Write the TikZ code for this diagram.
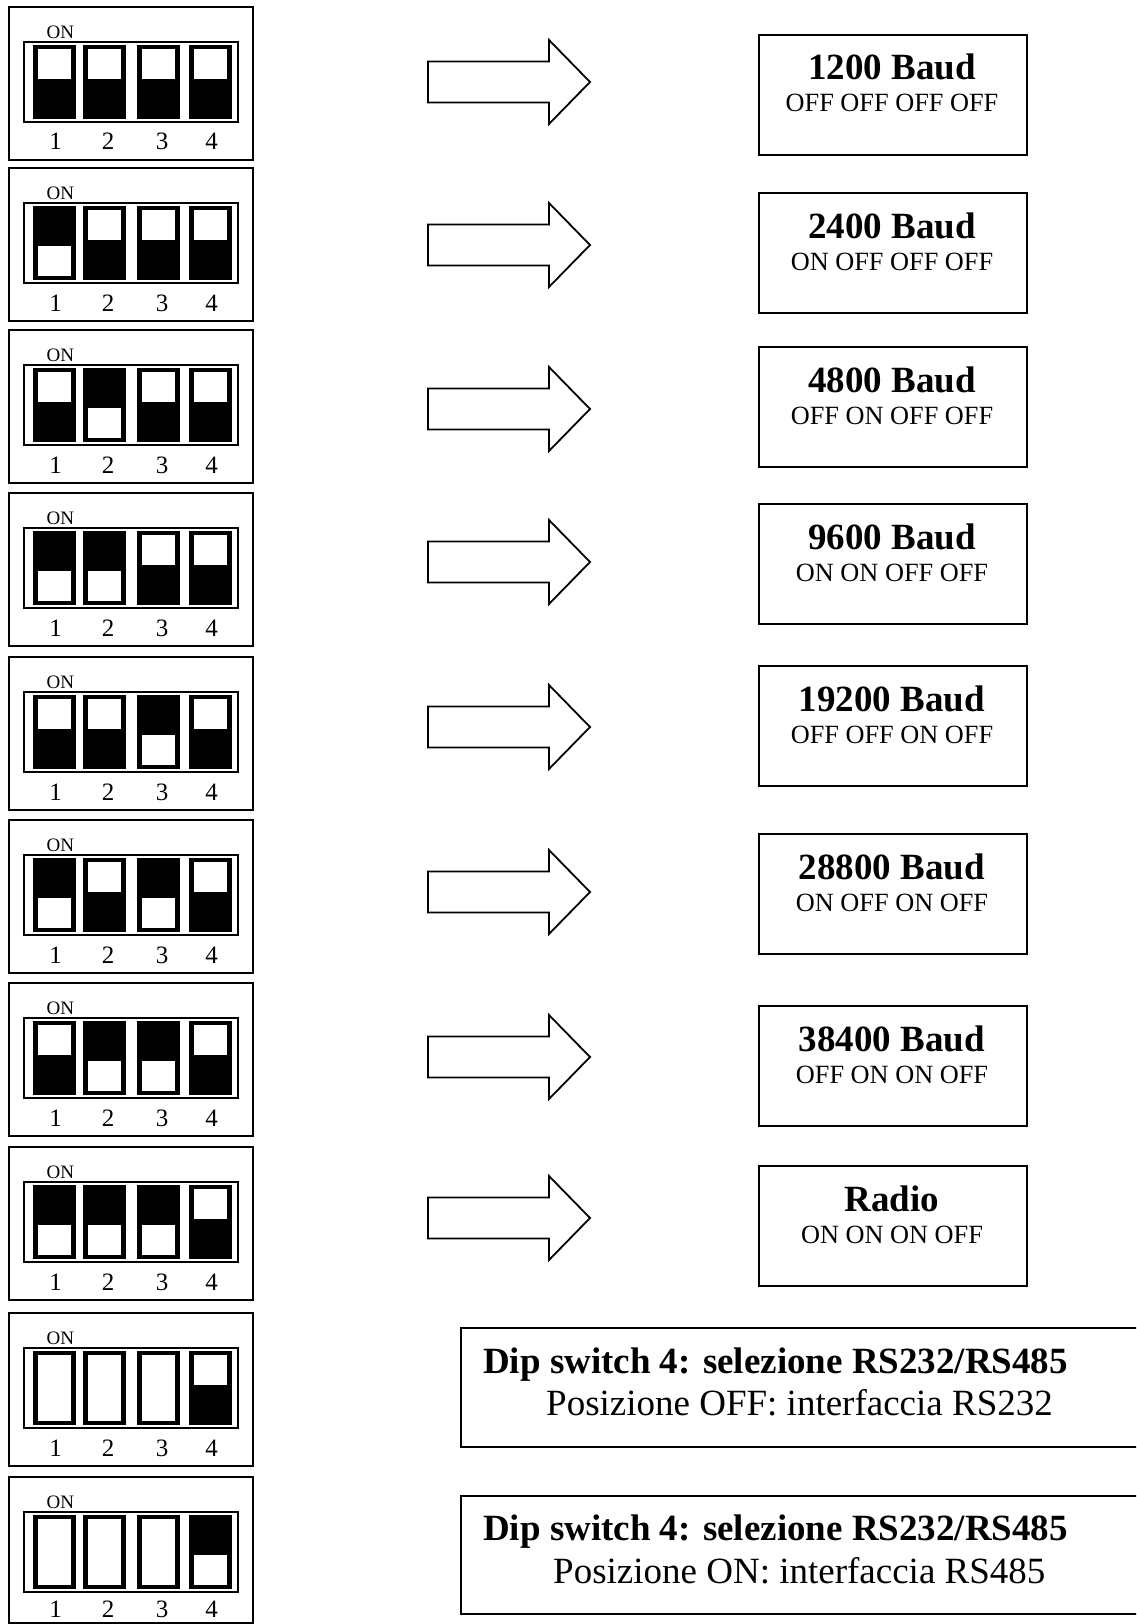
\documentclass[tikz,border=0pt]{standalone}
\usepackage{fontspec}
\setmainfont{Liberation Serif}
\tikzset{
  dipframe/.style={draw=black, line width=1.8pt, minimum width=244pt, inner sep=0pt},
  slotframe/.style={draw=black, line width=1.3pt},
  baudbox/.style={draw=black, line width=1.8pt, minimum width=268pt, minimum height=120pt, inner sep=0pt},
  blockarrow/.style={draw=black, line width=1.8pt, fill=white, line join=miter},
  onlabel/.style={inner sep=0pt, font=\fontsize{19}{20}\selectfont},
  numlabel/.style={inner sep=0pt, font=\fontsize{25}{26}\selectfont},
  baudtitle/.style={inner sep=0pt, font=\fontsize{37}{40}\selectfont\bfseries},
  baudsub/.style={inner sep=0pt, font=\fontsize{26.3}{28}\selectfont},
  infotitle/.style={inner sep=0pt, font=\fontsize{37}{40}\selectfont\bfseries},
  infosub/.style={inner sep=0pt, font=\fontsize{37}{40}\selectfont},
  infobox/.style={draw=black, line width=1.8pt},
}
\newcommand\swu[1]{\fill[white] (#1+5,43) rectangle (#1+38,73);}
\newcommand\swd[1]{\fill[white] (#1+5,79) rectangle (#1+38,109);}
\newcommand\sww[1]{\fill[white] (#1+5,43) rectangle (#1+38,109);}
% #1 index, #2 top, #3-#6 states, #7 box height, #8 number baseline
\newcommand\dipsw[8]{%
  \begin{scope}[shift={(0,#2)}]
    \node[dipframe, minimum height=#7pt, anchor=north west] (dip#1) at (8,0) {};
    \draw[slotframe] (24,36) rectangle (238,116);
    \foreach \xx/\ss in {33/#3,83/#4,137/#5,189/#6}{
      \fill (\xx,39) rectangle (\xx+43,113);
      \csname sw\ss\endcsname{\xx}
    }
    \node[onlabel, anchor=base west] (on#1) at (46.5,32.3) {ON};
    \foreach \xx/\nn in {55.5/1,108/2,162/3,211.5/4}
      \node[numlabel, anchor=base] (n#1-\nn) at (\xx,#8) {\nn};
  \end{scope}}
\newcommand\blockarr[2]{%
  \coordinate (arr#1) at (590,#2);
  \draw[blockarrow] (428,#2-20.5) -- (549,#2-20.5) -- (549,#2-42) -- (arr#1)
    -- (549,#2+42) -- (549,#2+20.5) -- (428,#2+20.5) -- cycle;}
\begin{document}
\begin{tikzpicture}[x=1pt, y=-1pt]
\useasboundingbox (0,0) rectangle (1136,1624);
\clip (0,0) rectangle (1136,1624);
\fill[white] (0,0) rectangle (1136,1624);

% dip switches
\foreach \tp/\sa/\sb/\sc/\sd/\hh/\nb [count=\i] in {
  6/u/u/u/u/153/144, 167/d/u/u/u/153/144, 329/u/d/u/u/153/144,
  492/d/d/u/u/153/144, 656/u/u/d/u/153/144, 819/d/u/d/u/153/144,
  982/u/d/d/u/153/144, 1146/d/d/d/u/153/144, 1312/w/w/w/u/153/144,
  1476/w/w/w/d/146/141}
  {\dipsw{\i}{\tp}{\sa}{\sb}{\sc}{\sd}{\hh}{\nb}}

% arrows
\foreach \cy [count=\i] in {82,245,409,562,727,892,1057,1218}
  {\blockarr{\i}{\cy}}

% baud boxes
\foreach \tp/\ti/\su [count=\i] in {
  34/1200 Baud/OFF OFF OFF OFF,
  192/2400 Baud/ON OFF OFF OFF,
  346/4800 Baud/OFF ON OFF OFF,
  503/9600 Baud/ON ON OFF OFF,
  665/19200 Baud/OFF OFF ON OFF,
  833/28800 Baud/ON OFF ON OFF,
  1005/38400 Baud/OFF ON ON OFF,
  1165/Radio/ON ON ON OFF}{
  \node[baudbox, anchor=north west] (baud\i) at (758,\tp) {};
  \node[baudtitle, anchor=base] (bt\i) at (892,\tp+46) {\ti};
  \node[baudsub, anchor=base] (bs\i) at (892,\tp+78) {\su};
}

% RS232/RS485 boxes
\draw[infobox] (1140,1328) -- (461,1328) -- (461,1447) -- (1140,1447);
\node[infotitle, anchor=base west] (it1) at (483,1373) {Dip switch 4: selezione RS232/RS485};
\node[infosub, anchor=base west] (is1) at (546,1415) {Posizione OFF: interfaccia RS232};
\draw[infobox] (1140,1496) -- (461,1496) -- (461,1614) -- (1140,1614);
\node[infotitle, anchor=base west] (it2) at (483,1540) {Dip switch 4: selezione RS232/RS485};
\node[infosub, anchor=base west] (is2) at (553,1583) {Posizione ON: interfaccia RS485};
\end{tikzpicture}
\end{document}
